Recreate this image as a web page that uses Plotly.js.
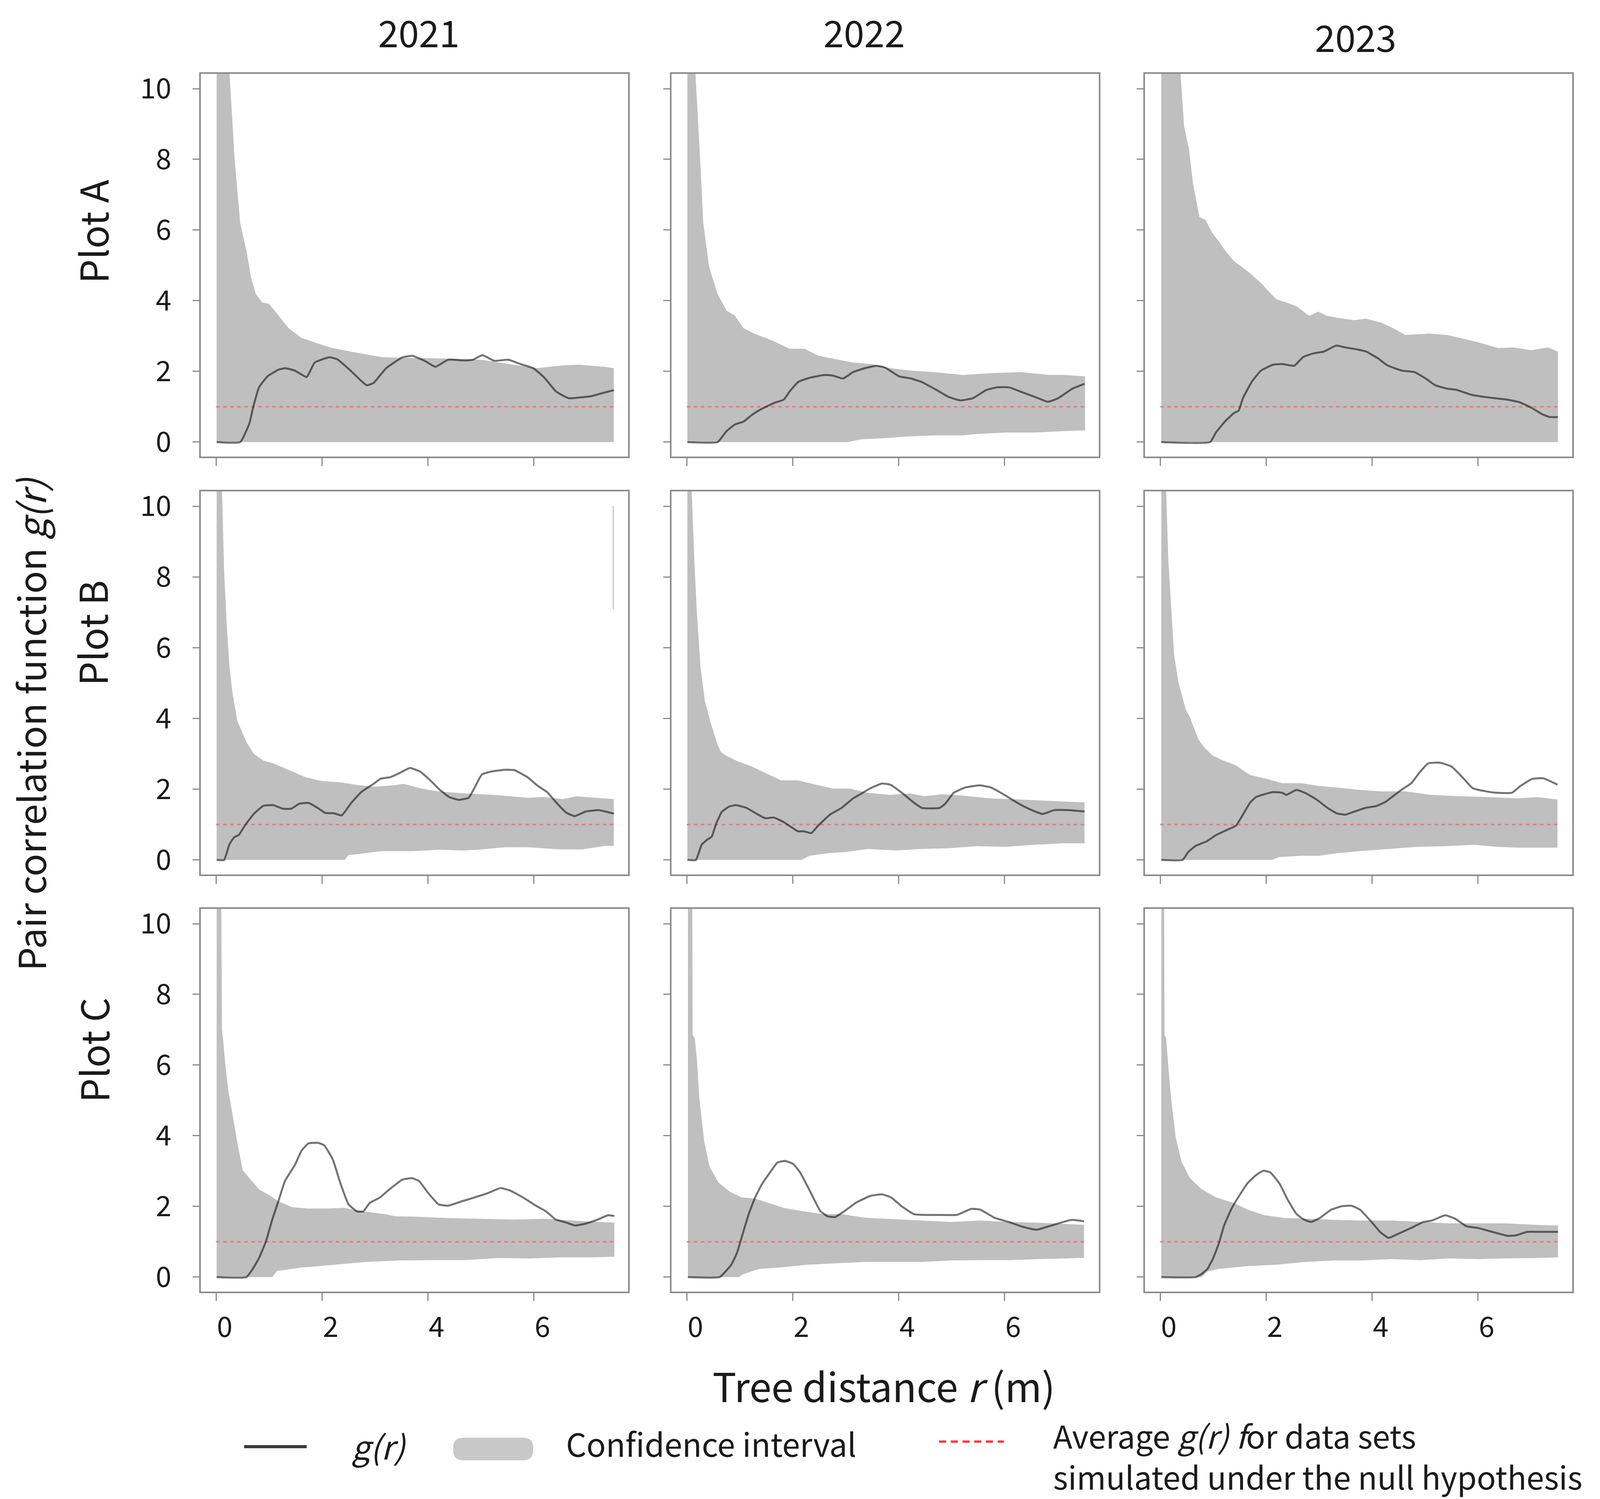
<!DOCTYPE html>
<html><head><meta charset="utf-8">
<script src="https://cdn.plot.ly/plotly-3.0.1.min.js"></script>
<style>html,body{margin:0;padding:0;background:#fff}</style>
</head><body><div id="chart" style="width:4133px;height:3838px"></div>
<script>
// ---------- DATA ----------
const years = ["2021", "2022", "2023"];
const plots = ["Plot A", "Plot B", "Plot C"];
const xTicks = [0, 2, 4, 6];
const yTicks = [0, 2, 4, 6, 8, 10];
const refR = [0, 7.5];
const refG = [1, 1];

// Plot A 2021
const A21_r = [0.01,0.455,0.63,0.69,0.81,0.97,1.18,1.31,1.49,1.71,1.86,2.14,2.29,2.54,2.84,2.97,3.21,3.52,3.71,3.95,4.14,4.38,4.69,4.85,5.03,5.25,5.52,5.74,5.99,6.20,6.42,6.66,6.85,7.09,7.28,7.51];
const A21_g = [0,0,0.54,0.93,1.55,1.86,2.05,2.09,2.02,1.84,2.25,2.40,2.34,2.02,1.61,1.67,2.09,2.40,2.44,2.29,2.13,2.33,2.31,2.33,2.46,2.30,2.33,2.21,2.09,1.82,1.43,1.24,1.26,1.30,1.38,1.47];
const A21_hiR = [0.01,0.25,0.35,0.455,0.57,0.66,0.75,0.87,1.0,1.18,1.37,1.61,1.92,2.17,2.54,2.84,3.15,3.77,4.38,5.0,5.62,6.05,6.54,6.85,7.34,7.51];
const A21_hi = [12,10.5,8.0,6.19,5.43,4.65,4.19,3.95,3.91,3.57,3.22,2.95,2.79,2.67,2.56,2.48,2.40,2.38,2.36,2.33,2.19,2.09,2.17,2.19,2.13,2.09];
const A21_loR = [0.01,7.51];
const A21_lo = [0,0];

// Plot A 2022
const A22_r = [0.01,0.58,0.75,0.91,1.07,1.24,1.40,1.67,1.83,1.94,2.11,2.32,2.60,2.76,2.95,3.14,3.36,3.58,3.74,4.01,4.23,4.45,4.72,4.94,5.16,5.40,5.65,5.86,6.08,6.35,6.57,6.82,7.01,7.28,7.51];
const A22_g = [0,0,0.31,0.50,0.58,0.78,0.93,1.12,1.20,1.43,1.71,1.82,1.90,1.88,1.80,1.98,2.09,2.16,2.11,1.86,1.80,1.69,1.47,1.28,1.18,1.24,1.47,1.55,1.55,1.40,1.28,1.14,1.24,1.51,1.65];
const A22_hiR = [0.01,0.16,0.26,0.31,0.42,0.58,0.75,0.91,1.07,1.29,1.62,1.94,2.22,2.49,2.76,3.14,3.47,3.85,4.23,4.67,5.21,5.75,6.30,6.84,7.12,7.52];
const A22_hi = [12,10.5,7.75,6.2,4.96,4.19,3.72,3.57,3.22,3.06,2.87,2.64,2.64,2.44,2.36,2.25,2.21,2.09,2.02,1.98,1.90,1.95,1.98,1.90,1.90,1.86];
const A22_loR = [0.01,3.03,3.30,3.85,4.12,4.67,5.21,5.48,6.03,6.57,7.12,7.52];
const A22_lo = [0,0,0.08,0.12,0.155,0.19,0.19,0.23,0.27,0.27,0.31,0.33];

// Plot A 2023
const A23_r = [0.02,0.94,1.05,1.22,1.39,1.48,1.56,1.73,1.90,2.13,2.30,2.53,2.70,2.92,3.09,3.32,3.49,3.72,3.89,4.11,4.29,4.57,4.80,5.02,5.19,5.42,5.59,5.87,6.21,6.55,6.78,7.01,7.21,7.35,7.51];
const A23_g = [0,0,0.27,0.58,0.82,0.89,1.24,1.71,2.02,2.19,2.21,2.16,2.41,2.52,2.56,2.73,2.68,2.62,2.56,2.37,2.17,2.02,1.98,1.79,1.61,1.51,1.48,1.34,1.26,1.20,1.13,0.97,0.79,0.71,0.71];
const A23_hiR = [0.02,0.38,0.45,0.54,0.62,0.68,0.74,0.85,0.99,1.11,1.22,1.39,1.67,1.90,2.19,2.36,2.58,2.81,2.98,3.15,3.38,3.66,3.89,4.17,4.40,4.63,5.08,5.42,5.65,5.99,6.38,6.67,7.01,7.32,7.51];
const A23_hi = [12,10.5,8.93,8.31,7.30,6.83,6.37,6.29,5.90,5.67,5.43,5.12,4.81,4.50,4.04,3.96,3.84,3.57,3.69,3.57,3.51,3.45,3.49,3.38,3.22,3.03,3.07,3.03,2.95,2.83,2.66,2.68,2.60,2.68,2.56];
const A23_loR = [0.02,7.51];
const A23_lo = [0,0];

// Plot B 2021
const B21_r = [0.01,0.15,0.25,0.34,0.43,0.55,0.71,0.89,1.08,1.26,1.42,1.57,1.75,1.94,2.06,2.22,2.37,2.55,2.74,2.98,3.11,3.29,3.48,3.66,3.85,4.03,4.22,4.40,4.58,4.77,4.89,5.02,5.20,5.45,5.63,5.88,6.06,6.25,6.43,6.62,6.77,6.98,7.23,7.51];
const B21_g = [0,0,0.44,0.64,0.71,0.99,1.30,1.53,1.55,1.45,1.45,1.59,1.61,1.45,1.33,1.32,1.26,1.61,1.92,2.16,2.30,2.34,2.47,2.60,2.50,2.27,1.99,1.78,1.70,1.76,2.07,2.42,2.50,2.55,2.54,2.34,2.11,1.92,1.61,1.33,1.24,1.37,1.41,1.31];
const B21_hiR = [0.01,0.11,0.15,0.20,0.25,0.31,0.40,0.58,0.71,0.89,1.08,1.38,1.69,2.0,2.37,2.62,2.98,3.35,3.54,3.85,4.09,4.34,4.71,5.26,5.57,5.88,6.18,6.55,6.80,7.17,7.51];
const B21_hi = [12,10.5,8.2,6.65,5.48,4.71,3.93,3.31,3.00,2.81,2.73,2.54,2.34,2.23,2.19,2.13,2.07,2.11,2.15,2.03,1.96,1.92,1.88,1.84,1.80,1.76,1.78,1.72,1.80,1.76,1.72];
const B21_loR = [0.01,2.43,2.49,2.80,3.11,3.72,4.22,4.65,4.95,5.45,5.88,6.49,6.92,7.35,7.51];
const B21_lo = [0,0,0.13,0.19,0.25,0.25,0.29,0.27,0.29,0.36,0.36,0.30,0.30,0.40,0.40];
const B21_markR = [7.5, 7.5];
const B21_markG = [7.08, 10.0];

// Plot B 2022
const B22_r = [0.01,0.17,0.28,0.39,0.47,0.55,0.66,0.80,0.93,1.13,1.29,1.48,1.64,1.83,1.97,2.10,2.21,2.35,2.48,2.70,2.92,3.14,3.30,3.46,3.68,3.84,4.06,4.28,4.44,4.77,4.88,5.04,5.26,5.53,5.74,6.02,6.18,6.37,6.56,6.72,6.94,7.21,7.51];
const B22_g = [0,0,0.43,0.58,0.66,1.01,1.36,1.51,1.55,1.47,1.33,1.18,1.20,1.07,0.93,0.81,0.81,0.76,0.97,1.28,1.47,1.74,1.88,2.02,2.16,2.13,1.90,1.63,1.47,1.47,1.59,1.90,2.05,2.11,2.05,1.82,1.67,1.51,1.38,1.30,1.41,1.41,1.37];
const B22_hiR = [0.01,0.09,0.14,0.19,0.26,0.34,0.45,0.58,0.64,0.74,0.96,1.23,1.51,1.78,2.10,2.43,2.76,3.08,3.41,3.84,4.22,4.49,4.82,5.20,5.74,6.29,6.83,7.51];
const B22_hi = [12,10.5,8.53,6.98,5.43,4.50,3.88,3.26,3.06,2.95,2.79,2.64,2.44,2.25,2.25,2.13,2.02,2.02,1.90,1.84,1.88,1.80,1.86,1.82,1.74,1.71,1.67,1.63];
const B22_loR = [0.01,2.16,2.32,2.65,3.03,3.41,3.95,4.39,4.93,5.47,6.02,6.56,7.10,7.51];
const B22_lo = [0,0,0.12,0.19,0.23,0.31,0.27,0.31,0.33,0.39,0.37,0.43,0.47,0.47];

// Plot B 2023
const B23_r = [0.02,0.42,0.53,0.67,0.88,1.05,1.26,1.43,1.56,1.70,1.81,1.97,2.13,2.30,2.38,2.57,2.73,2.95,3.16,3.33,3.49,3.65,3.87,4.09,4.25,4.41,4.57,4.74,4.90,5.06,5.28,5.50,5.71,5.90,6.15,6.36,6.64,6.80,7.02,7.23,7.50];
const B23_g = [0,0,0.23,0.40,0.53,0.70,0.85,0.97,1.28,1.63,1.78,1.86,1.92,1.90,1.84,1.98,1.90,1.71,1.47,1.32,1.28,1.36,1.47,1.53,1.64,1.82,2.00,2.17,2.48,2.73,2.75,2.64,2.33,2.03,1.94,1.90,1.90,2.09,2.29,2.31,2.13];
const B23_hiR = [0.02,0.11,0.15,0.21,0.26,0.34,0.48,0.56,0.72,0.83,0.99,1.16,1.43,1.70,2.02,2.30,2.67,3.00,3.33,3.76,4.19,4.63,5.12,5.66,6.20,6.74,7.12,7.50];
const B23_hi = [12,10.5,8.53,6.98,5.81,5.04,4.26,4.03,3.41,3.18,2.95,2.83,2.67,2.40,2.29,2.17,2.17,2.09,2.05,1.98,1.94,1.94,1.84,1.80,1.78,1.74,1.78,1.71];
const B23_loR = [0.02,2.11,2.24,2.67,3.0,3.33,3.76,4.30,4.85,5.39,5.93,6.36,6.74,7.12,7.50];
const B23_lo = [0,0,0.08,0.12,0.12,0.19,0.25,0.31,0.37,0.39,0.43,0.37,0.35,0.35,0.35];

// Plot C 2021
const C21_r = [0.01,0.57,0.69,0.81,0.94,1.06,1.18,1.30,1.49,1.61,1.74,1.92,2.04,2.20,2.35,2.50,2.66,2.78,2.90,3.09,3.27,3.52,3.70,3.83,4.01,4.20,4.38,4.63,4.87,5.12,5.37,5.55,5.80,6.04,6.23,6.41,6.60,6.78,6.97,7.21,7.40,7.52];
const C21_g = [0,0,0.23,0.54,1.01,1.63,2.17,2.72,3.18,3.57,3.78,3.80,3.73,3.34,2.64,2.06,1.86,1.86,2.10,2.25,2.48,2.76,2.80,2.72,2.37,2.06,2.02,2.14,2.25,2.37,2.52,2.45,2.25,2.02,1.86,1.63,1.55,1.46,1.51,1.63,1.75,1.73];
const C21_hiR = [0.01,0.09,0.10,0.11,0.13,0.17,0.23,0.32,0.41,0.50,0.63,0.81,0.99,1.18,1.43,1.74,2.10,2.41,2.78,3.15,3.40,3.77,4.38,5.0,5.61,6.23,6.84,7.52];
const C21_hi = [12,12,9.9,7.0,6.75,6.06,5.28,4.50,3.73,3.03,2.80,2.48,2.33,2.14,1.98,1.94,1.94,1.96,1.86,1.79,1.72,1.71,1.67,1.65,1.63,1.65,1.59,1.54];
const C21_loR = [0.01,1.06,1.15,1.61,2.23,2.84,3.46,4.07,4.69,5.30,5.92,6.54,7.15,7.52];
const C21_lo = [0,0,0.17,0.27,0.35,0.43,0.47,0.48,0.48,0.54,0.53,0.56,0.56,0.58];

// Plot C 2022
const C22_r = [0.02,0.62,0.73,0.84,0.95,1.06,1.17,1.28,1.41,1.57,1.71,1.85,2.01,2.14,2.33,2.52,2.66,2.80,2.98,3.20,3.47,3.69,3.85,4.07,4.29,4.51,4.78,5.10,5.37,5.54,5.81,6.08,6.35,6.60,6.84,7.06,7.27,7.50];
const C22_g = [0,0,0.16,0.35,0.70,1.25,1.79,2.22,2.61,2.96,3.24,3.29,3.20,2.96,2.42,1.87,1.72,1.70,1.87,2.11,2.30,2.34,2.26,1.99,1.78,1.76,1.76,1.76,1.93,1.91,1.68,1.56,1.42,1.34,1.44,1.54,1.62,1.58];
const C22_hiR = [0.02,0.10,0.11,0.15,0.19,0.24,0.33,0.43,0.60,0.81,1.03,1.30,1.52,1.85,2.17,2.55,2.93,3.37,3.91,4.45,4.99,5.54,6.08,6.62,7.17,7.50];
const C22_hi = [12,12,6.85,6.75,6.16,4.99,3.82,3.12,2.67,2.42,2.26,2.22,2.11,1.95,1.87,1.79,1.78,1.68,1.64,1.60,1.56,1.60,1.56,1.54,1.50,1.48];
const C22_loR = [0.02,0.98,1.06,1.36,1.74,2.28,2.82,3.37,3.91,4.45,4.99,5.54,6.08,6.62,7.17,7.50];
const C22_lo = [0,0,0.08,0.23,0.27,0.35,0.39,0.43,0.43,0.43,0.47,0.48,0.48,0.51,0.53,0.55];

// Plot C 2023
const C23_r = [0.02,0.67,0.78,0.89,1.0,1.10,1.21,1.35,1.49,1.65,1.81,1.95,2.08,2.25,2.41,2.57,2.71,2.85,3.01,3.23,3.44,3.61,3.77,3.99,4.15,4.31,4.53,4.75,4.97,5.13,5.38,5.57,5.78,6.0,6.27,6.55,6.71,6.93,7.20,7.51];
const C23_g = [0,0,0.09,0.23,0.54,0.93,1.48,1.95,2.30,2.66,2.89,3.01,2.96,2.65,2.18,1.79,1.63,1.56,1.67,1.91,2.01,2.02,1.91,1.56,1.28,1.11,1.25,1.40,1.56,1.60,1.75,1.65,1.44,1.39,1.28,1.17,1.18,1.28,1.28,1.28];
const C23_hiR = [0.02,0.07,0.08,0.11,0.15,0.21,0.29,0.40,0.56,0.78,1.05,1.38,1.65,1.97,2.36,2.85,3.28,3.82,4.37,4.91,5.46,6.0,6.55,7.09,7.51];
const C23_hi = [12,12,6.85,6.77,5.99,4.98,3.97,3.27,2.80,2.49,2.26,2.10,1.91,1.75,1.67,1.65,1.62,1.60,1.60,1.56,1.52,1.52,1.52,1.48,1.46];
const C23_loR = [0.02,0.78,0.89,1.10,1.65,2.19,2.74,3.28,3.82,4.37,4.91,5.46,6.0,6.55,7.09,7.51];
const C23_lo = [0,0,0.16,0.23,0.31,0.35,0.43,0.47,0.47,0.51,0.48,0.53,0.51,0.53,0.54,0.56];

// ---------- BUILD ----------
const W = 4133, H = 3838;
const FONT = '"Noto Sans CJK JP", "Noto Sans", sans-serif';
const panels = [
  [A21_r,A21_g,A21_hiR,A21_hi,A21_loR,A21_lo],[A22_r,A22_g,A22_hiR,A22_hi,A22_loR,A22_lo],[A23_r,A23_g,A23_hiR,A23_hi,A23_loR,A23_lo],
  [B21_r,B21_g,B21_hiR,B21_hi,B21_loR,B21_lo],[B22_r,B22_g,B22_hiR,B22_hi,B22_loR,B22_lo],[B23_r,B23_g,B23_hiR,B23_hi,B23_loR,B23_lo],
  [C21_r,C21_g,C21_hiR,C21_hi,C21_loR,C21_lo],[C22_r,C22_g,C22_hiR,C22_hi,C22_loR,C22_lo],[C23_r,C23_g,C23_hiR,C23_hi,C23_loR,C23_lo]
];
const colPx = [[514,1608],[1719,2813],[2931,4025]];
const rowPx = [[189,1169],[1258,2239],[2327,3307]];
const px = v => v / W, py = v => 1 - v / H;

const data = [];
const layout = {
  width: W, height: H, margin: {l:0, r:0, t:0, b:0},
  paper_bgcolor: '#ffffff', plot_bgcolor: '#ffffff', showlegend: false,
  font: {family: FONT, color: '#1a1a1a', size: 72},
  annotations: [], shapes: []
};

panels.forEach((p, i) => {
  const row = Math.floor(i / 3), col = i % 3, k = i + 1;
  const xa = 'x' + k, ya = 'y' + k;
  const [r, g, hiR, hi, loR, lo] = p;
  data.push({type:'scatter', mode:'lines', xaxis:xa, yaxis:ya,
    x: hiR.concat(loR.slice().reverse()), y: hi.concat(lo.slice().reverse()),
    fill:'toself', fillcolor:'#bfbfbf', line:{width:0, color:'#bfbfbf'}, hoverinfo:'skip'});
  data.push({type:'scatter', mode:'lines', xaxis:xa, yaxis:ya, x: refR, y: refG,
    line:{color:'rgb(236,120,132)', width:4, dash:'9px,9px'}});
  data.push({type:'scatter', mode:'lines', xaxis:xa, yaxis:ya, x: r, y: g,
    line:{color:'rgba(0,0,0,0.55)', width:5, shape:'spline', smoothing:0.4}});
  if (i === 3) {
    data.push({type:'scatter', mode:'lines', xaxis:xa, yaxis:ya, x: B21_markR, y: B21_markG,
      line:{color:'#c4c4c4', width:3}});
  }
  const axCommon = {showgrid:false, zeroline:false, showline:true, mirror:true,
    linecolor:'#8a8a8a', linewidth:4, ticks:'outside', tickcolor:'#8a8a8a', tickwidth:3,
    tickfont:{family:FONT, size:72, color:'#1a1a1a'}};
  layout['xaxis' + (k === 1 ? '' : k)] = Object.assign({}, axCommon, {
    domain:[px(colPx[col][0]), px(colPx[col][1])], range:[-0.29, 7.78], anchor: ya,
    tickmode:'array', tickvals:xTicks, ticktext:xTicks.map(String),
    showticklabels: row === 2, ticklen: 20, ticklabelstandoff: 6, ticklabelshift: 22});
  layout['yaxis' + (k === 1 ? '' : k)] = Object.assign({}, axCommon, {
    domain:[py(rowPx[row][1]), py(rowPx[row][0])], range:[-0.41, 10.42], anchor: xa,
    tickmode:'array', tickvals:yTicks, ticktext:yTicks.map(String),
    showticklabels: col === 0, ticklen: 17, ticklabelstandoff: 40});
});

const ann = (text, x, y, size, opts) => Object.assign({text, x:px(x), y:py(y), xref:'paper', yref:'paper',
  showarrow:false, xanchor:'center', yanchor:'middle', font:{family:FONT, size, color:'#1a1a1a'}}, opts || {});

// column titles
const yearPos = [[1072, 80], [2212, 80], [3470, 92]];
years.forEach((t, j) => layout.annotations.push(ann(t, yearPos[j][0], yearPos[j][1], 94)));
// row labels
const plotPos = [[235, 593], [233, 1621], [237, 2689]];
plots.forEach((t, i) => layout.annotations.push(ann(t, plotPos[i][0], plotPos[i][1], 98, {textangle:-90})));
// axis titles
layout.annotations.push(ann('Pair correlation function <i>g(r)</i>', 76, 1854, 96, {textangle:-90}));
layout.annotations.push(ann('Tree distance <i>r</i> (m)', 2262, 3545, 102));

// legend
layout.shapes.push({type:'line', xref:'paper', yref:'paper', x0:px(625), x1:px(785), y0:py(3704), y1:py(3704),
  line:{color:'#3a3a3a', width:8}});
layout.annotations.push(ann('<i>g(r)</i>', 970, 3700, 84));
(function(){
  const x0=1160, x1=1365, y0=3681, y1=3739, rr=26;
  const path = `M ${px(x0+rr)} ${py(y0)} L ${px(x1-rr)} ${py(y0)} Q ${px(x1)} ${py(y0)} ${px(x1)} ${py(y0+rr)} ` +
    `L ${px(x1)} ${py(y1-rr)} Q ${px(x1)} ${py(y1)} ${px(x1-rr)} ${py(y1)} L ${px(x0+rr)} ${py(y1)} ` +
    `Q ${px(x0)} ${py(y1)} ${px(x0)} ${py(y1-rr)} L ${px(x0)} ${py(y0+rr)} Q ${px(x0)} ${py(y0)} ${px(x0+rr)} ${py(y0)} Z`;
  layout.shapes.push({type:'path', xref:'paper', yref:'paper', path, fillcolor:'#c8c8c8', line:{width:0}});
})();
layout.annotations.push(ann('Confidence interval', 1447, 3694, 82, {xanchor:'left'}));
layout.shapes.push({type:'line', xref:'paper', yref:'paper', x0:px(2404), x1:px(2570), y0:py(3691), y1:py(3691),
  line:{color:'#ff3b3b', width:6, dash:'18px,12px'}});
layout.annotations.push(ann('Average <i>g(r) f</i>or data sets<br>simulated under the null hypothesis', 2694, 3726, 81,
  {xanchor:'left', align:'left'}));

Plotly.newPlot('chart', data, layout, {staticPlot:true, displayModeBar:false});
</script></body></html>
